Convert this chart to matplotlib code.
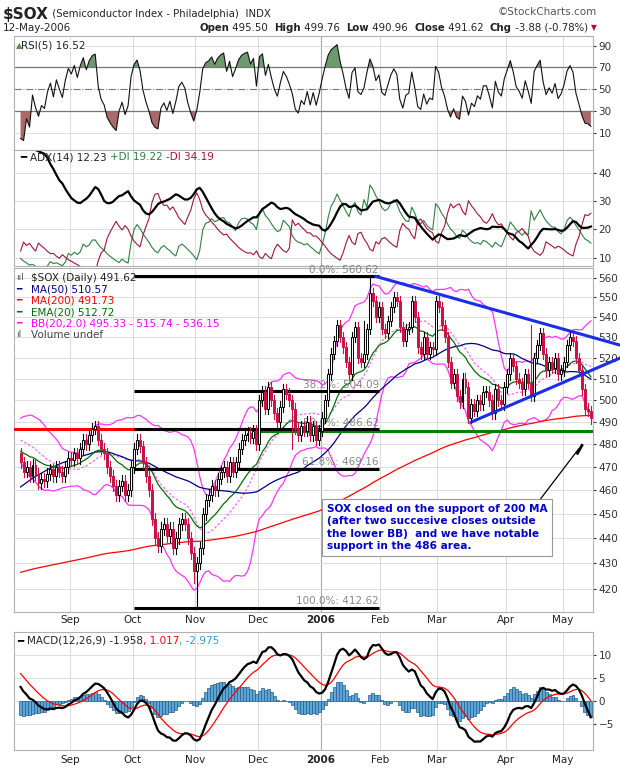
import numpy as np
import pandas as pd
import matplotlib
matplotlib.use("Agg")
import matplotlib.pyplot as plt
from matplotlib.patches import Rectangle

# ---------------- data ----------------
prior_weekly = [400,395,405,415,420,425,430,428,432,425,418,412,415,420,428,432,430,425,418,415,
                412,408,400,392,385,390,398,405,410,412,415,418,422,428,438,450,462,474,484,488,482,476]
closes = [472,468,470,466,471, 467,463,465,464, 467,469,466,470,468, 466,470,474,473,
          476,474,478,482,480,484,487,488, 482,478,476,470,466,462, 458,462,464,458,
          460,470,478,482,479, 472,466,460, 448,440,437,444, 446,441,444,436,440,446,
          448,446,440,434, 427,430,
          436,450,456,458,462, 460,465,468,470,466, 472,468,472, 478,482,484, 485,483,486,480,
          500,504,496,506,500,494, 490,497,505,503,500,496, 487,484,488,486,490,484,488,482,
          486,492,500,512,
          522,528,536,530,525,518,512,530,535,520,518,522,534,552,548,540,545,534,532,538,
          545,550,548,535,528,534,535,548,540,525,522,530,522,525,524,548,545,536,530,518,
          508,512,502,499,510,506,492,498,495,500,498,504,504,500,494,505,500,498,506,512,
          520,516,510,508,505,512,508,502,520,526,532,522,514,518,515,520,512,514,518,526,
          530,528,520,514,505,496,495,491.62]
wick = 2.5
low_override = {59: 412.6, 58: 422.0, 91: 478.0}
high_override = {117: 560.6, 115: 538.0, 171: 536.0}
holidays = ["2005-09-05","2005-11-24","2005-12-26","2006-01-02","2006-01-16","2006-02-20","2006-04-14"]
fib_levels = [560.62, 504.09, 486.62, 469.16, 412.62]
fib_labels = ["0.0%: 560.62", "38.2%: 504.09", "50.0%: 486.62", "61.8%: 469.16", "100.0%: 412.62"]
support = 486.0
upper_trend = ([119, 201], [560.6, 526.0])
lower_trend = ([151, 201], [490.0, 520.0])
note = "SOX closed on the support of 200 MA\n(after two succesive closes outside\nthe lower BB)  and we have notable\nsupport in the 486 area."

# ---------------- computations ----------------
N = len(closes)
cbd = pd.offsets.CustomBusinessDay(holidays=holidays)
dates = pd.date_range(end="2006-05-12", periods=N, freq=cbd)
prior = np.repeat(prior_weekly, 5).astype(float)
allc = np.concatenate([prior, np.array(closes, float)])
P = len(prior)
s = pd.Series(allc)
opens_all = np.concatenate([[allc[0]], allc[:-1]])
hi_all = np.maximum(opens_all, allc) + wick
lo_all = np.minimum(opens_all, allc) - wick
for k, v in low_override.items(): lo_all[P+k] = v
for k, v in high_override.items(): hi_all[P+k] = v

ma50 = s.rolling(50).mean().values
ma200 = s.rolling(200, min_periods=150).mean().values
ema20 = s.ewm(span=20, adjust=False).mean().values
mid = s.rolling(20).mean(); sd = s.rolling(20).std(ddof=0)
bbu = (mid + 2*sd).values; bbl = (mid - 2*sd).values; bbm = mid.values

d = s.diff()
up = d.clip(lower=0).ewm(alpha=1/5, adjust=False).mean()
dn = (-d.clip(upper=0)).ewm(alpha=1/5, adjust=False).mean()
rsi = (100 - 100/(1+up/dn)).values

H = pd.Series(hi_all); L = pd.Series(lo_all)
upm = H.diff(); dnm = -L.diff()
pdm = np.where((upm > dnm) & (upm > 0), upm, 0.0)
mdm = np.where((dnm > upm) & (dnm > 0), dnm, 0.0)
tr = np.maximum(H - L, np.maximum((H - s.shift()).abs(), (L - s.shift()).abs()))
atr = pd.Series(tr).ewm(alpha=1/14, adjust=False).mean()
pdi = 100*pd.Series(pdm).ewm(alpha=1/14, adjust=False).mean()/atr
mdi = 100*pd.Series(mdm).ewm(alpha=1/14, adjust=False).mean()/atr
dx = 100*(pdi-mdi).abs()/(pdi+mdi)
adx = dx.ewm(alpha=1/14, adjust=False).mean().values

macd = (s.ewm(span=12, adjust=False).mean() - s.ewm(span=26, adjust=False).mean())
sig = macd.ewm(span=9, adjust=False).mean()
hist = (macd - sig).values; macd = macd.values; sig = sig.values

sl = slice(P, None)
x = np.arange(N)
o = opens_all[sl]; c = allc[sl]; h = hi_all[sl]; l = lo_all[sl]

# ---------------- figure ----------------
plt.rcParams['font.family'] = ['DejaVu Sans']
fig = plt.figure(figsize=(6.2, 7.7), dpi=100)
W, Hh = 620, 770
def ax_at(top, bot):
    return fig.add_axes([14/W, 1-bot/Hh, (593-14)/W, (bot-top)/Hh])
ax_r = ax_at(36, 150); ax_a = ax_at(150, 266); ax_m = ax_at(268, 612); ax_c = ax_at(632, 750)

mt, ml = [], []
prev = None
for i, dt in enumerate(dates):
    if prev is not None and dt.month != prev.month and dt.month != 8:
        mt.append(i - 0.5); ml.append("2006" if dt.month == 1 else dt.strftime("%b"))
    prev = dt
XL = (-2.2, N - 0.3)
grid_c = "#dcdcdc"
for ax in (ax_r, ax_a, ax_m, ax_c):
    ax.set_xlim(*XL)
    ax.set_facecolor("white")
    for sp in ax.spines.values():
        sp.set_color("#b0b0b0"); sp.set_linewidth(0.8)
    ax.yaxis.tick_right()
    ax.tick_params(axis="y", labelsize=7.5, length=2, colors="#333333", pad=2)
    ax.set_xticks(mt); ax.set_xticklabels([])
    ax.tick_params(axis="x", length=0)
    for t, lab in zip(mt, ml):
        ax.axvline(t, color="#a8a8a8" if lab == "2006" else grid_c, lw=0.8, zorder=0)

# RSI
ax_r.set_ylim(-6, 99)
ax_r.set_yticks([10, 30, 50, 70, 90])
for v in [10, 90]: ax_r.axhline(v, color=grid_c, lw=0.7, zorder=0)
ax_r.axhline(70, color="#777777", lw=0.9); ax_r.axhline(30, color="#777777", lw=0.9)
ax_r.axhline(50, color="#777777", lw=0.8, ls="-.")
rr = rsi[sl]
ax_r.fill_between(x, rr, 70, where=rr > 70, color="#6e9a6e", interpolate=True, lw=0)
ax_r.fill_between(x, rr, 30, where=rr < 30, color="#a86a6a", interpolate=True, lw=0)
ax_r.plot(x, rr, color="#111111", lw=0.8)
ax_r.text(0.012, 0.96, "RSI(5) 16.52", transform=ax_r.transAxes, fontsize=7.5, va="top", color="#222222",
          bbox=dict(fc="white", ec="none", pad=0.5))
ax_r.text(0.003, 0.96, "▲", transform=ax_r.transAxes, fontsize=6, va="top", color="#5a8a5a")

# ADX
ax_a.set_ylim(7, 48)
ax_a.set_yticks([10, 20, 30, 40])
for v in [10, 20, 30, 40]: ax_a.axhline(v, color=grid_c, lw=0.7, zorder=0)
ax_a.plot(x, pdi.values[sl], color="#2f7f3f", lw=0.8)
ax_a.plot(x, mdi.values[sl], color="#a0143c", lw=0.8)
ax_a.plot(x, adx[sl], color="black", lw=1.6)

def multitext(ax, xf, yf, parts, size=7.5):
    fig.canvas.draw()
    r = fig.canvas.get_renderer()
    xx = xf
    for txt, col, wt in parts:
        t = ax.text(xx, yf, txt, transform=ax.transAxes, fontsize=size, color=col, va="top",
                    fontweight=wt, zorder=10)
        bb = t.get_window_extent(renderer=r)
        xx += bb.width / (ax.get_window_extent().width)
multitext(ax_a, 0.01, 0.98, [("━ ", "black", "bold"), ("ADX(14) 12.23 ", "#222222", "normal"),
                             ("+DI 19.22 ", "#2f7f3f", "normal"), ("-DI 34.19", "#a0143c", "normal")])

# Main
ax_m.set_yscale("log")
ax_m.set_ylim(411, 565)
ticks = list(range(420, 561, 10))
ax_m.yaxis.set_major_locator(matplotlib.ticker.FixedLocator(ticks))
ax_m.yaxis.set_minor_locator(matplotlib.ticker.NullLocator())
ax_m.set_yticklabels([str(t) for t in ticks])
for v in ticks: ax_m.axhline(v, color=grid_c, lw=0.7, zorder=0)
ax_m.plot(x, bbu[sl], color="#ff33ff", lw=0.9, zorder=2)
ax_m.plot(x, bbl[sl], color="#ff33ff", lw=0.9, zorder=2)
ax_m.plot(x, bbm[sl], color="#ff66ff", lw=0.9, ls=(0, (2, 1.5)), zorder=2)
ax_m.plot(x, ma200[sl], color="red", lw=0.9, zorder=2)
ax_m.plot(x, ma50[sl], color="#000080", lw=0.9, zorder=2)
ax_m.plot(x, ema20[sl], color="#007000", lw=0.9, zorder=2)
sep_dec = mt[3]
ax_m.plot([XL[0], sep_dec], [fib_levels[2], fib_levels[2]], color="red", lw=2.2, zorder=3)
ax_m.plot([sep_dec, XL[1]], [support, support], color="#008000", lw=2.2, zorder=3)
f0, f1 = mt[1] + 0.5, mt[5] - 0.5
for lev, lab in zip(fib_levels, fib_labels):
    ax_m.plot([f0, f1], [lev, lev], color="black", lw=2.2, zorder=4, solid_capstyle="butt", clip_on=False)
    ax_m.text(f1, lev * 1.0015, lab, ha="right", va="bottom", fontsize=7.5, color="#888888", zorder=5)
for i in x:
    col = "#cc1144" if c[i] < o[i] else "black"
    ax_m.plot([i, i], [l[i], h[i]], color=col, lw=0.8, zorder=6)
    b0, b1 = min(o[i], c[i]), max(o[i], c[i])
    if b1 - b0 < 0.4: b1 = b0 + 0.4
    ax_m.add_patch(Rectangle((i - 0.33, b0), 0.66, b1 - b0,
                             fc=("#cc1144" if c[i] < o[i] else "white"), ec=col, lw=0.7, zorder=7))
ax_m.plot(*upper_trend, color="#1a2ee6", lw=2.2, zorder=8, clip_on=False)
ax_m.plot(*lower_trend, color="#1a2ee6", lw=2.2, zorder=8, clip_on=False)
ax_m.annotate("", xy=(172, 452.8), xytext=(187.5, 479), arrowprops=dict(arrowstyle="-", color="black", lw=0.9), zorder=9)
ax_m.plot([186.5, 188], [476, 479.5], color="black", lw=2, zorder=9)
fig.text(327/W, 1 - 504/Hh, note, fontsize=7.6, fontweight="bold", color="#0000cc", va="top", ha="left",
         linespacing=1.3, bbox=dict(fc="white", ec="#999999", lw=0.8, boxstyle="square,pad=0.45"), zorder=20)
leg = [("$SOX (Daily) 491.62", "#222222", "ııl"), ("MA(50) 510.57", "#000080", "━"), ("MA(200) 491.73", "red", "━"),
       ("EMA(20) 512.72", "#007000", "━"), ("BB(20,2.0) 495.33 - 515.74 - 536.15", "#ff00ff", "━"), ("Volume undef", "#444444", "ıl")]
for k, (t, col, mk) in enumerate(leg):
    yy = 0.985 - k * 0.033
    ax_m.text(0.003, yy, mk, transform=ax_m.transAxes, fontsize=6.5, color=col if mk == "━" else "#555555", va="top", zorder=10)
    ax_m.text(0.03, yy, t, transform=ax_m.transAxes, fontsize=7.5, color=col, va="top", zorder=10)

def xpix(t):
    return 14 + (t - XL[0]) / (XL[1] - XL[0]) * 579
for t, lab in zip(mt, ml):
    for yp in (620, 760):
        fig.text(xpix(t) / W, 1 - yp/Hh, lab, ha="center", va="center", fontsize=7.5,
                 fontweight="bold" if lab == "2006" else "normal", color="#222222")

# MACD
ax_c.set_ylim(-10.6, 15)
ax_c.set_yticks([-5, 0, 5, 10])
for v in [-5, 0, 5, 10]: ax_c.axhline(v, color=grid_c, lw=0.7, zorder=0)
hh = hist[sl]
ax_c.bar(x, hh, width=1.0, color="#5aa8d8", edgecolor="#2a5a8a", lw=0.5, zorder=2)
ax_c.plot(x, sig[sl], color="red", lw=0.9, zorder=3)
ax_c.plot(x, macd[sl], color="black", lw=1.6, zorder=4)
multitext(ax_c, 0.005, 0.97, [("━ ", "black", "bold"), ("MACD(12,26,9) -1.958", "#222222", "normal"),
                              (", 1.017", "red", "normal"), (", -2.975", "#3399cc", "normal")])

# header
fig.canvas.draw(); r = fig.canvas.get_renderer()
hx = 3
for txt, fs, wt in [("$SOX", 11, "bold"), (" (Semiconductor Index - Philadelphia)", 7.3, "normal"), ("  INDX", 7.3, "normal")]:
    t = fig.text(hx/W, 1 - 14/Hh, txt, fontsize=fs, fontweight=wt, va="center", color="#222222")
    hx += t.get_window_extent(renderer=r).width
fig.text(597/W, 1 - 12/Hh, "©StockCharts.com", fontsize=7.5, ha="right", va="center", color="#555555")
fig.text(3/W, 1 - 28/Hh, "12-May-2006", fontsize=7.5, va="center", color="#222222")
parts = [("Open", True), (" 495.50  ", False), ("High", True), (" 499.76  ", False), ("Low", True),
         (" 490.96  ", False), ("Close", True), (" 491.62  ", False), ("Chg", True), (" -3.88 (-0.78%)", False)]
tmp = []
for txt, b in parts:
    t = fig.text(0, 1 - 28/Hh, txt, fontsize=7.3, fontweight="bold" if b else "normal", va="center", color="#222222")
    tmp.append((t, t.get_window_extent(renderer=r).width))
total = sum(wd for _, wd in tmp)
xs = 588 - total
for t, wd in tmp:
    t.set_x(xs / W); xs += wd
fig.text((xs + 3)/W, 1 - 28/Hh, "▼", fontsize=5.5, va="center", color="#aa1144")

fig.savefig("out.png", dpi=100, facecolor="white")
